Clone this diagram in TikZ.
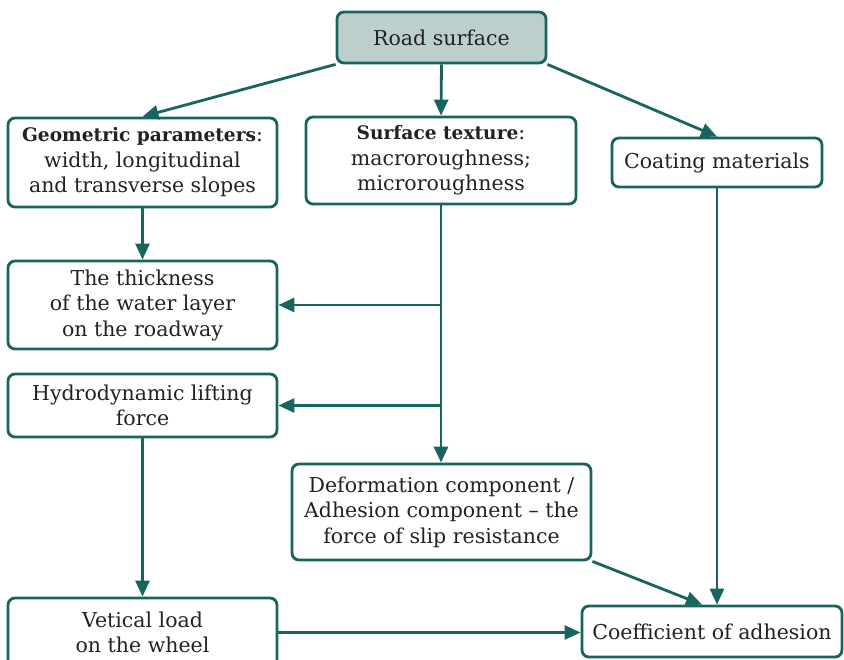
\documentclass[tikz,border=0pt]{standalone}
\usepackage{fontspec}
\setmainfont{DejaVu Serif}
\usepackage{xcolor}
\definecolor{rdteal}{HTML}{17655E}
\definecolor{rdfill}{HTML}{BDCFCD}
\definecolor{rdtext}{HTML}{222222}
\def\maubien{rdteal}
\def\maunen{rdfill}
\newcommand{\tieude}[1]{{\fontsize{18.6}{25.5}\selectfont\bfseries #1}}
\usetikzlibrary{arrows.meta}

\begin{document}
\begin{tikzpicture}[x=1pt,y=-1pt,
	box/.style={draw=\maubien,line width=2.8pt,rounded corners=7pt,fill=white,align=center,
		text=rdtext,inner sep=0pt,font=\fontsize{20.5}{25.5}\selectfont},
	arr/.style={draw=\maubien,line width=2.8pt,-{Triangle[length=16pt,width=14pt]}}]
		\useasboundingbox (0,0) rectangle (844,660);
		\node[box,fill=\maunen,minimum width=209pt,minimum height=51pt] (road) at (441.5,37.5) {Road surface};
		\node[box,minimum width=269pt,minimum height=89pt] (geo) at (142.5,162.5)
		{\tieude{Geometric parameters}:\\width, longitudinal\\and transverse slopes};
		\node[box,minimum width=270pt,minimum height=87pt] (tex) at (441,160.5)
		{\tieude{Surface texture}:\\macroroughness;\\microroughness};
		\node[box,minimum width=210pt,minimum height=49pt] (coat) at (717,162.5) {Coating materials};
		\node[box,minimum width=269pt,minimum height=88pt] (thick) at (142.5,305)
		{The thickness\\of the water layer\\on the roadway};
		\node[box,minimum width=269pt,minimum height=63pt] (hydro) at (142.5,405.5)
		{Hydrodynamic lifting\\force};
		\node[box,minimum width=299pt,minimum height=96pt] (deform) at (441.5,512)
		{Deformation component /\\Adhesion component -- the\\force of slip resistance};
		\node[box,minimum width=269pt,minimum height=69pt] (load) at (142.5,632.5)
		{Vetical load\\on the wheel};
		\node[box,minimum width=260pt,minimum height=51pt] (coef) at (712,631.5) {Coefficient of adhesion};
		\draw[arr] (road.south west) -- (geo.north);
		\draw[arr] (road.south) -- (tex.north);
		\draw[arr] (road.south east) -- (coat.north);
		\draw[arr] (geo.south) -- (thick.north);
		\draw[arr] (tex.south) -- (tex.south |- deform.north);
		\draw[arr] (tex.south |- thick.east) -- (thick.east);
		\draw[arr] (tex.south |- hydro.east) -- (hydro.east);
		\draw[arr] (hydro.south) -- (load.north);
		\draw[arr] (coat.south) -- (coat.south |- coef.north);
		\draw[arr] (deform.south east) -- ([xshift=-10pt]coef.north);
		\draw[arr] (load.east) -- (load.east -| coef.west);
	\end{tikzpicture}
\end{document}
